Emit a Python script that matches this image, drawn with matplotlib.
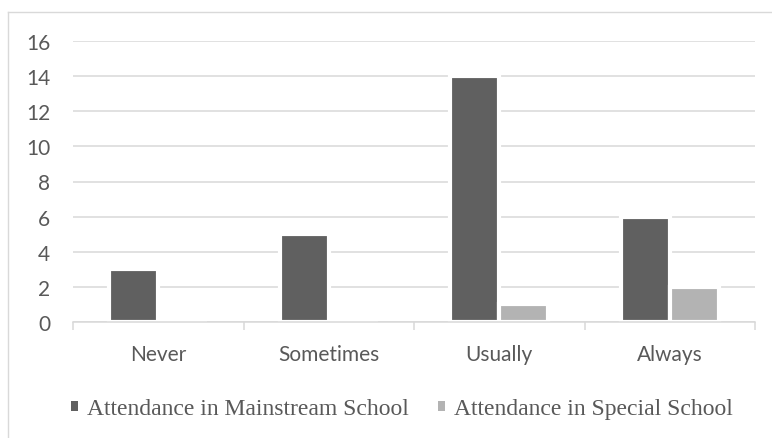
import numpy as np
import matplotlib.pyplot as plt
from matplotlib.lines import Line2D

categories = ['Never', 'Sometimes', 'Usually', 'Always']
mainstream = [3, 5, 14, 6]
special = [0, 0, 1, 2]
yticks = [0, 2, 4, 6, 8, 10, 12, 14, 16]

dark = '#606060'
light = '#b3b3b3'
grid_col = '#d9d9d9'
text_col = '#595959'

fig = plt.figure(figsize=(7.72, 4.39), dpi=100)
W, H = 772, 439
ax = fig.add_axes([73 / W, 1 - 323 / H, (755 - 73) / W, (323 - 42) / H])

# chart border (only top and left show in the crop)
fig.add_artist(Line2D([8 / W, 1.0], [1 - 13 / H] * 2, transform=fig.transFigure,
                      color=grid_col, linewidth=1))
fig.add_artist(Line2D([8 / W] * 2, [0, 1 - 13 / H], transform=fig.transFigure,
                      color=grid_col, linewidth=1))

x = np.arange(len(categories))
w = 0.287
ax.bar(x - w / 2, mainstream, w, color=dark, edgecolor='white', linewidth=3,
       label='Attendance in Mainstream School')
ax.bar(x + w / 2, special, w, color=light, edgecolor='white', linewidth=3,
       label='Attendance in Special School')

ax.set_xlim(-0.5, len(categories) - 0.5)
ax.set_ylim(0, 16)
ax.set_yticks(yticks)
ax.yaxis.grid(True, color=grid_col, linewidth=1.1)
ax.set_axisbelow(True)

for s in ['top', 'right', 'left']:
    ax.spines[s].set_visible(False)
ax.spines['bottom'].set_color(grid_col)
ax.spines['bottom'].set_linewidth(1.1)
ax.spines['bottom'].set_zorder(5)

ax.set_xticks(x)
ax.set_xticklabels(categories)
ax.set_xticks(np.arange(-0.5, len(categories)), minor=True)
ax.tick_params(axis='x', which='major', length=0, pad=16, labelsize=15, labelcolor=text_col)
ax.tick_params(axis='x', which='minor', length=6, color=grid_col, width=1.1)
ax.tick_params(axis='y', length=0, pad=16.5, labelsize=15, labelcolor=text_col)
for lab in ax.get_xticklabels() + ax.get_yticklabels():
    lab.set_family(['Lato', 'DejaVu Sans'])

leg = fig.legend(loc='center', bbox_to_anchor=(402 / W, 1 - 410 / H), ncol=2,
                 frameon=False, handlelength=0.3, handleheight=0.3,
                 handletextpad=0.4, columnspacing=1.2, borderpad=0,
                 prop={'family': 'Liberation Serif', 'size': 17})
for t in leg.get_texts():
    t.set_color(text_col)
for p in leg.get_patches():
    p.set_linewidth(0)

fig.savefig('out.png', dpi=100)
